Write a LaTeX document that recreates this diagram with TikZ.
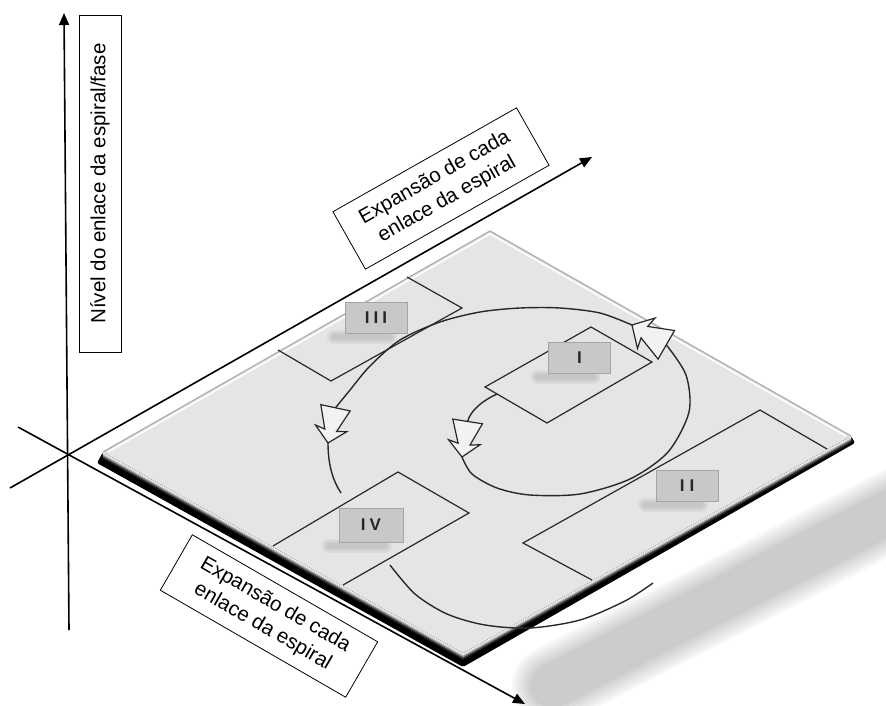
\documentclass[tikz,border=0pt]{standalone}
\usepackage{fontspec}
\setmainfont{Liberation Sans}
\usetikzlibrary{arrows.meta,calc}
\definecolor{face}{RGB}{229,229,229}
\definecolor{lblfill}{RGB}{200,200,200}
\definecolor{lbldraw}{RGB}{165,165,165}
\definecolor{lineclr}{RGB}{40,40,40}
\tikzset{
  axis/.style={line width=1.6pt, -{Triangle[length=12pt,width=10pt]}},
  axlabel/.style={draw, line width=0.8pt, fill=white, align=center, inner sep=0pt,
    font=\fontsize{20.5}{25}\selectfont},
  zone/.style={draw=lineclr, line width=1.2pt, line join=miter},
  phase/.style={fill=lblfill, draw=lbldraw, line width=0.8pt, minimum width=62pt,
    minimum height=31pt, inner sep=0pt, font=\fontsize{17}{19}\selectfont\bfseries, text=black!85},
  spiral/.style={draw=lineclr, line width=1.4pt},
  hollow/.style={draw=lineclr, line width=1.2pt, fill=face!50!white, line join=miter},
  harrow/.pic={\draw[hollow] (-15,-36) -- (15,-36) -- (6,-13) -- (16,-15) -- (0,0)
     -- (-16,-15) -- (-6,-13) -- cycle;}
}
\begin{document}
\begin{tikzpicture}[x=1pt,y=-1pt]
\useasboundingbox (0,0) rectangle (886,706);
\clip (0,0) rectangle (886,706);

% plate shadow
\foreach \w in {80,74,68,62,56,50,44}
  \draw[line width=\w pt, line cap=round, black, opacity=0.03] (552,686) -- (940,486);

% axes
\coordinate (O) at (68,455);
\coordinate (vBot) at (69,630);
\coordinate (vTop) at (64,13);
\coordinate (xBack) at (10,488);
\coordinate (xEnd) at (592,157);
\coordinate (zBack) at (18,427);
\coordinate (zEnd) at (525,704);
\draw[axis] (vBot) -- (vTop);
\draw[axis] (xBack) -- (xEnd);
\draw[axis] (zBack) -- (zEnd);

% axis labels
\node[axlabel, rotate=90, minimum width=337pt, minimum height=42pt] (nivel) at (100,183.5)
  {Nível do enlace da espiral/fase};
\node[axlabel, rotate=29.5, minimum width=211pt, minimum height=66pt] (exp1) at (441,188.5)
  {Expansão de cada\\enlace da espiral};
\node[axlabel, rotate=-30, minimum width=214pt, minimum height=64pt] (exp2) at (269,616)
  {Expansão de cada\\enlace da espiral};

% plate
\coordinate (L) at (103,452);
\coordinate (T) at (490,231);
\coordinate (R) at (851,436);
\coordinate (B) at (463,653);
\fill[black, rounded corners=2pt] (L) -- (B) -- (R) -- ($(R)+(4,7)$) -- ($(B)+(0,14)$) -- ($(L)+(-6,11)$) -- cycle;
\foreach \k/\c in {1/3,2/10,3/25,4/45,5/65,6/85}
  \draw[black!\c, line width=1.2pt] ($(L)+(0,\k)$) -- ($(B)+(0,\k)$) -- ($(R)+(0,\k)$);
\fill[face] (L) -- (T) -- (R) -- (B) -- cycle;
\draw[gray!60, line width=1.4pt, line join=round] (L) -- (T) -- (R);
\draw[white, line width=1.5pt] ($(L)+(5,0)$) -- ($(T)+(0,3)$) -- ($(R)+(-5,0)$);

% zones
\draw[zone] (407,277) -- (462,308) -- (331,381) -- (278,350);
\draw[zone] (591,327) -- (652,362) -- (547,423) -- (485,387) -- cycle;
\draw[zone] (592,580) -- (523,543) -- (760,410) -- (827,449);
\draw[zone] (273,546) -- (398,472) -- (469,513) -- (343,585);

% phase label shadows
\foreach \cx/\cy in {376/333, 579.5/373, 371/542, 687/501}
  \foreach \w in {14,10,6}
    \draw[line width=\w pt, line cap=round, black, opacity=0.045] ({\cx-42},{\cy+4}) -- ({\cx+14},{\cy+4});

% phase labels
\node[phase] (pIII) at (376,317.5) {I\kern4ptI\kern4ptI};
\node[phase] (pI) at (579.5,358) {I};
\node[phase, minimum width=64pt, minimum height=34pt] (pIV) at (371,525) {I\kern4ptV};
\node[phase] (pII) at (687,485.5) {I\kern5ptI};

% spiral
\coordinate (Atip) at (328,443);
\coordinate (Atop) at (335.5,407.8);
\coordinate (Btip) at (462,457);
\coordinate (Btop) at (467.6,421.4);
\coordinate (Ctip) at (632,325);
\coordinate (Ctop) at (666.3,344.8);
\coordinate (Istart) at (497,394);
\coordinate (IVend) at (341,493);
\coordinate (Ostart) at (390,565);
\coordinate (Oend) at (653,583);

\draw[spiral] (Istart) .. controls (482,401) and (471,410) .. (Btop);
\draw[spiral] plot[smooth] coordinates {(Btip) (472,474) (497,488) (530,495) (580,494) (630,479) (668,452) (689,412) (686,375) (Ctop)};
\draw[spiral] plot[smooth] coordinates {(Ctip) (600,313) (560,308) (520,308) (480,312) (440,322) (400,340) (370,366) (350,390) (Atop)};
\draw[spiral] (Atip) .. controls (328,465) and (333,481) .. (IVend);
\draw[spiral] plot[smooth] coordinates {(Ostart) (415,594) (447,614) (485,625) (530,628) (580,620) (625,601) (Oend)};

% hollow arrowheads
\pic[rotate=-12] at (Atip) {harrow};
\pic[rotate=-9] at (Btip) {harrow};
\pic[rotate=-120, scale=1.1] at (Ctip) {harrow};
\end{tikzpicture}
\end{document}
